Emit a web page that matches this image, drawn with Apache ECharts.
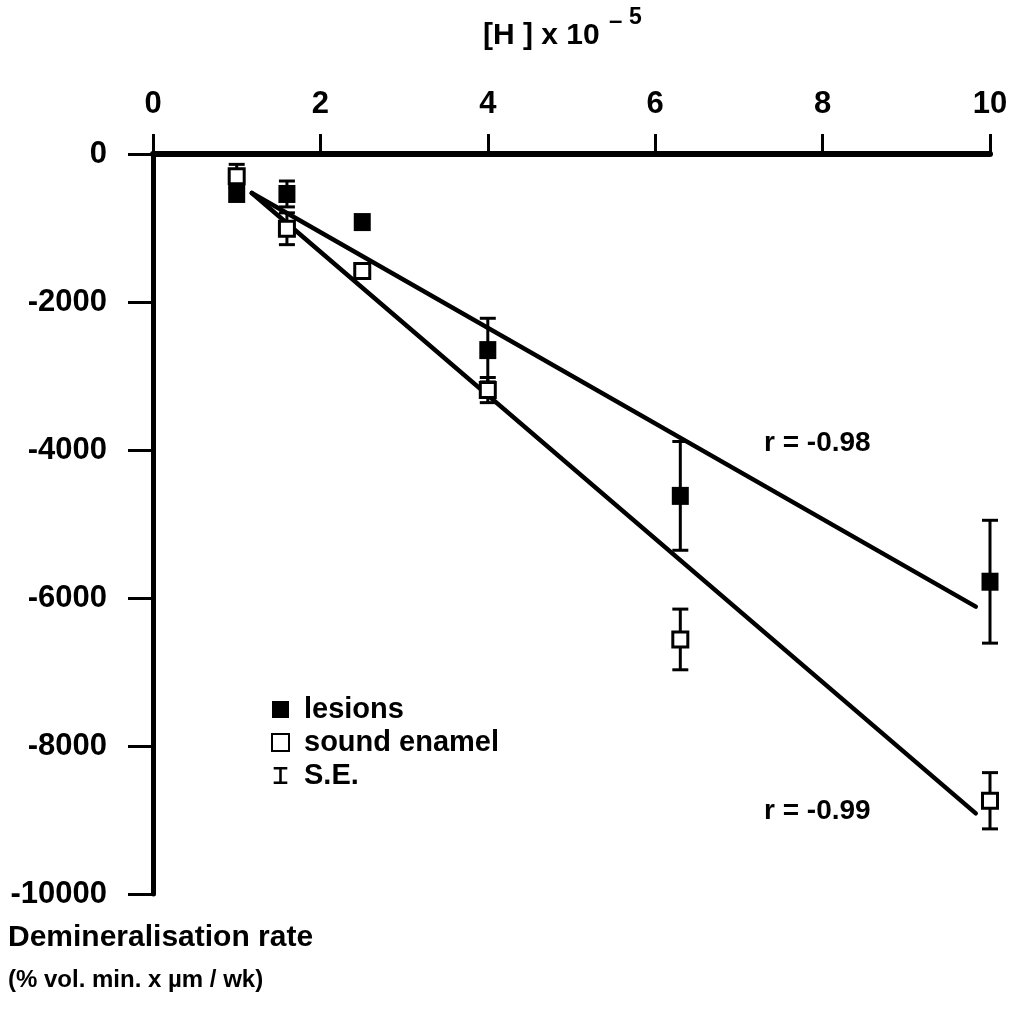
<!DOCTYPE html>
<html>
<head>
<meta charset="utf-8">
<script src="https://cdn.jsdelivr.net/npm/echarts@6/dist/echarts.min.js"></script>
<style>
html,body{margin:0;padding:0;background:#fff;}
#chart{width:1017px;height:1027px;}
</style>
</head>
<body>
<div id="chart"></div>
<script>
// ---- data ----
const hConc = [1.0, 1.6, 2.5, 4.0, 6.3, 10.0];           // [H] x 10^-5
const lesions = [-540, -540, -920, -2650, -4620, -5780];  // demineralisation rate
const lesionsSE = [null, 175, null, 430, 735, 830];
const sound = [-300, -1010, -1580, -3190, -6560, -8740];
const soundSE = [160, 215, null, 170, 410, 380];
// regression lines (end points)
const fitX = [1.18, 9.83];
const lesionsFit = [-527, -6116];
const soundFit = [-527, -8910];
const xTicks = [0, 2, 4, 6, 8, 10];
const yTicks = [0, -2000, -4000, -6000, -8000, -10000];

const FONT = '"Liberation Sans", Arial, Helvetica, sans-serif';

function pairs(xs, ys){ return xs.map((x,i)=>[x, ys[i]]); }
function errData(xs, ys, se){
  const out = [];
  xs.forEach((x,i)=>{ if(se[i] != null) out.push([x, ys[i]-se[i], ys[i]+se[i]]); });
  return out;
}
function errRender(params, api){
  const x = api.value(0), lo = api.value(1), hi = api.value(2);
  const p1 = api.coord([x, hi]), p2 = api.coord([x, lo]);
  const w = 8;
  const st = {stroke:'#000', lineWidth:3};
  return {type:'group', children:[
    {type:'line', shape:{x1:p1[0], y1:p1[1], x2:p2[0], y2:p2[1]}, style:st},
    {type:'line', shape:{x1:p1[0]-w, y1:p1[1], x2:p1[0]+w, y2:p1[1]}, style:st},
    {type:'line', shape:{x1:p2[0]-w, y1:p2[1], x2:p2[0]+w, y2:p2[1]}, style:st}
  ]};
}

const chart = echarts.init(document.getElementById('chart'), null, {renderer:'canvas'});
chart.setOption({
  backgroundColor:'#fff',
  animation:false,
  grid:{left:153, right:27, top:154, bottom:133, containLabel:false},
  xAxis:{
    type:'value', position:'top', min:xTicks[0], max:xTicks[xTicks.length-1], interval:2,
    axisLine:{show:true, onZero:false, lineStyle:{color:'#000', width:6}},
    axisTick:{show:true, inside:false, length:20, lineStyle:{color:'#000', width:3}},
    axisLabel:{margin:34, color:'#000', fontFamily:FONT, fontWeight:'bold', fontSize:31},
    splitLine:{show:false}
  },
  yAxis:{
    type:'value', min:yTicks[yTicks.length-1], max:yTicks[0], interval:2000,
    axisLine:{show:true, onZero:false, lineStyle:{color:'#000', width:5}},
    axisTick:{show:true, inside:false, length:25, lineStyle:{color:'#000', width:3}},
    axisLabel:{margin:46, color:'#000', fontFamily:FONT, fontWeight:'bold', fontSize:31,
      formatter:v=>String(v)},
    splitLine:{show:false}
  },
  legend:{
    orient:'vertical', left:266, top:690, itemGap:4, itemWidth:17, itemHeight:17,
    textStyle:{fontFamily:FONT, fontWeight:'bold', fontSize:29, lineHeight:28, color:'#000', padding:[0,0,0,10]},
    selectedMode:false,
    data:[
      {name:'lesions', icon:'rect'},
      {name:'sound enamel', icon:'rect'},
      {name:'S.E.', icon:'path://M0,0H16V3H9.5V17H16V20H0V17H6.5V3H0Z'}
    ]
  },
  series:[
    {type:'line', name:'fit lesions', data:pairs(fitX, lesionsFit), showSymbol:false,
      lineStyle:{color:'#000', width:4.5, cap:'round'}, z:2, silent:true},
    {type:'line', name:'fit sound', data:pairs(fitX, soundFit), showSymbol:false,
      lineStyle:{color:'#000', width:4.5, cap:'round'}, z:2, silent:true},
    {type:'custom', name:'S.E.', renderItem:errRender, data:errData(hConc, lesions, lesionsSE),
      itemStyle:{color:'#000'}, z:3, encode:{x:0, y:[1,2]}},
    {type:'custom', name:'S.E.', renderItem:errRender, data:errData(hConc, sound, soundSE),
      itemStyle:{color:'#000'}, z:3, encode:{x:0, y:[1,2]}},
    {type:'scatter', name:'lesions', data:pairs(hConc, lesions), symbol:'rect', symbolSize:[17,18],
      itemStyle:{color:'#000', opacity:1}, z:4},
    {type:'scatter', name:'sound enamel', data:pairs(hConc, sound), symbol:'rect', symbolSize:[15,15],
      itemStyle:{color:'#fff', borderColor:'#000', borderWidth:3, opacity:1}, z:5}
  ],
  graphic:[
    {type:'text', x:483, y:36, style:{text:'[H ] x 10', font:'bold 30px '+FONT, fill:'#000', verticalAlign:'middle'}},
    {type:'text', x:609, y:21, style:{text:'–', font:'bold 24px '+FONT, fill:'#000', verticalAlign:'middle'}},
    {type:'text', x:629, y:18, style:{text:'5', font:'bold 23px '+FONT, fill:'#000', verticalAlign:'middle'}},
    {type:'text', x:764, y:443, style:{text:'r = -0.98', font:'bold 28px '+FONT, fill:'#000', verticalAlign:'middle'}},
    {type:'text', x:764, y:811, style:{text:'r = -0.99', font:'bold 28px '+FONT, fill:'#000', verticalAlign:'middle'}},
    {type:'text', x:8, y:938, style:{text:'Demineralisation rate', font:'bold 30px '+FONT, fill:'#000', verticalAlign:'middle'}},
    {type:'text', x:8, y:980, style:{text:'(% vol. min. x µm / wk)', font:'bold 24px '+FONT, fill:'#000', verticalAlign:'middle'}}
  ]
});
</script>
</body>
</html>
